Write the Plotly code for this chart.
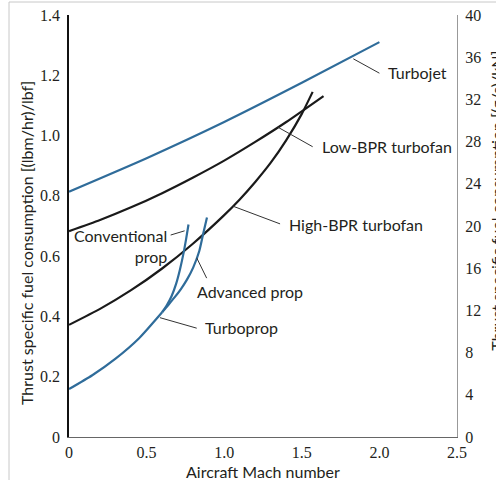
import numpy as np
import plotly.graph_objects as go

# ---- data ----
turbojet_m = [0.0, 0.5, 1.0, 1.5, 2.0]
turbojet_tsfc = [0.814, 0.925, 1.045, 1.175, 1.31]

lowbpr_m = [0.0, 0.2, 0.4, 0.6, 0.8, 1.0, 1.2, 1.4, 1.64]
lowbpr_tsfc = [0.683, 0.720, 0.762, 0.809, 0.861, 0.917, 0.979, 1.045, 1.131]

highbpr_m = [0.0, 0.2, 0.4, 0.6, 0.8, 1.0, 1.1, 1.2, 1.3, 1.4, 1.5, 1.57]
highbpr_tsfc = [0.372, 0.425, 0.487, 0.559, 0.642, 0.736, 0.788, 0.846, 0.910, 0.985, 1.072, 1.145]

turboprop_m = [0.0, 0.15, 0.3, 0.45, 0.6]
turboprop_tsfc = [0.159, 0.205, 0.26, 0.327, 0.414]

conv_m = [0.6, 0.63, 0.66, 0.69, 0.715, 0.74, 0.755, 0.77]
conv_tsfc = [0.414, 0.437, 0.466, 0.508, 0.556, 0.615, 0.658, 0.705]

adv_m = [0.6, 0.64, 0.68, 0.72, 0.76, 0.8, 0.84, 0.865, 0.889]
adv_tsfc = [0.414, 0.438, 0.463, 0.49, 0.522, 0.562, 0.618, 0.675, 0.728]

x_ticks = [0, 0.5, 1.0, 1.5, 2.0, 2.5]
x_ticktext = ["0", "0.5", "1.0", "1.5", "2.0", "2.5"]
y_ticks = [0, 0.2, 0.4, 0.6, 0.8, 1.0, 1.2, 1.4]
y_ticktext = ["0", "0.2", "0.4", "0.6", "0.8", "1.0", "1.2", "1.4"]
y2_ticks = [0, 4, 8, 12, 16, 20, 24, 28, 32, 36, 40]

BLUE = "#2f6c9a"
BLACK = "#1a1a1a"
TXT = "#231f20"
LABEL_FONT = dict(family="Lato", size=16, color=TXT)
TICK_FONT = dict(family="Liberation Serif", size=16, color=TXT)

fig = go.Figure()
series = [
    (turbojet_m, turbojet_tsfc, BLUE),
    (lowbpr_m, lowbpr_tsfc, BLACK),
    (highbpr_m, highbpr_tsfc, BLACK),
    (turboprop_m, turboprop_tsfc, BLUE),
    (conv_m, conv_tsfc, BLUE),
    (adv_m, adv_tsfc, BLUE),
]
for xs, ys, c in series:
    fig.add_trace(go.Scatter(x=xs, y=ys, mode="lines",
                             line=dict(color=c, width=2.2, shape="spline", smoothing=0.6),
                             hoverinfo="skip", showlegend=False))

# dummy trace for right axis
fig.add_trace(go.Scatter(x=[0], y=[0], yaxis="y2", mode="markers",
                         marker=dict(opacity=0), showlegend=False, hoverinfo="skip"))

# ---- labels with leader lines ----
labels = [
    ("Turbojet", (1.832, float(np.interp(1.832, turbojet_m, turbojet_tsfc)) - 0.01), (2.0, 1.207), (2.04, 1.208), "left"),
    ("Low-BPR turbofan", (1.347, float(np.interp(1.347, lowbpr_m, lowbpr_tsfc))), (1.57, 0.963), (1.615, 0.965), "left"),
    ("High-BPR turbofan", (1.057, float(np.interp(1.057, highbpr_m, highbpr_tsfc))), (1.36, 0.707), (1.405, 0.705), "left"),
    ("Advanced prop", (0.823, float(np.interp(0.823, adv_m, adv_tsfc))), (0.887, 0.527), (0.812, 0.482), "left"),
    ("Turboprop", (0.586, float(np.interp(0.586, turboprop_m, turboprop_tsfc)) - 0.01), (0.823, 0.361), (0.862, 0.362), "left"),
]
shapes = []
annotations = []
for text, p0, p1, pt, anc in labels:
    shapes.append(dict(type="line", xref="x", yref="y", x0=p0[0], y0=p0[1], x1=p1[0], y1=p1[1],
                       line=dict(color="#333333", width=1)))
    annotations.append(dict(x=pt[0], y=pt[1], xref="x", yref="y", text=text, showarrow=False,
                            xanchor=anc, yanchor="middle", font=LABEL_FONT))

# conventional prop (two-line, right aligned)
shapes.append(dict(type="line", xref="x", yref="y", x0=0.655, y0=0.670, x1=0.745, y1=0.684,
                   line=dict(color="#333333", width=1)))
annotations.append(dict(x=0.642, y=0.634, xref="x", yref="y", text="Conventional<br>prop",
                        showarrow=False, xanchor="right", yanchor="middle", align="right",
                        font=LABEL_FONT))

# axis titles
annotations.append(dict(x=0.5, y=-0.082, xref="paper", yref="paper", text="Aircraft Mach number",
                        showarrow=False, xanchor="center", yanchor="middle", font=LABEL_FONT))
annotations.append(dict(x=-0.108, y=0.46, xref="paper", yref="paper",
                        text="Thrust specific fuel consumption [(lbm/hr)/lbf]", textangle=-90,
                        showarrow=False, xanchor="center", yanchor="middle", font=LABEL_FONT))
annotations.append(dict(x=1.103, y=0.56, xref="paper", yref="paper",
                        text="Thrust specific fuel consumption [(g/s)/kN]", textangle=-90,
                        showarrow=False, xanchor="center", yanchor="middle", font=LABEL_FONT))

# light grey frame around figure
shapes.append(dict(type="line", xref="paper", yref="paper", x0=-0.1546, y0=1.0308, x1=1.12, y1=1.0308,
                   line=dict(color="#c8c8c8", width=1)))
shapes.append(dict(type="line", xref="paper", yref="paper", x0=-0.1546, y0=1.0308, x1=-0.1546, y1=-0.1019,
                   line=dict(color="#c8c8c8", width=1)))

fig.update_layout(
    width=496, height=487,
    margin=dict(l=69, r=39, t=15, b=50, autoexpand=False),
    paper_bgcolor="white", plot_bgcolor="white",
    showlegend=False,
    shapes=shapes, annotations=annotations,
    xaxis=dict(range=[0, 2.5], tickvals=x_ticks, ticktext=x_ticktext, showgrid=False, zeroline=False,
               showline=True, linecolor="#666666", linewidth=1.2, ticks="", tickfont=TICK_FONT,
               ticklabelstandoff=1, fixedrange=True, automargin=False),
    yaxis=dict(range=[0, 1.4], tickvals=y_ticks, ticktext=y_ticktext, showgrid=False, zeroline=False,
               showline=True, linecolor="#111111", linewidth=1.5, ticks="", tickfont=TICK_FONT,
               ticklabelstandoff=4, fixedrange=True, automargin=False),
    yaxis2=dict(range=[0, 40], tickvals=y2_ticks, overlaying="y", side="right", showgrid=False,
                zeroline=False, showline=True, linecolor="#999999", linewidth=1.2, ticks="",
                tickfont=TICK_FONT, ticklabelstandoff=4, fixedrange=True, automargin=False),
)

fig.write_html("out.html", config={"displayModeBar": False},
               post_script="document.body.style.margin='0';document.body.style.overflow='hidden';")
